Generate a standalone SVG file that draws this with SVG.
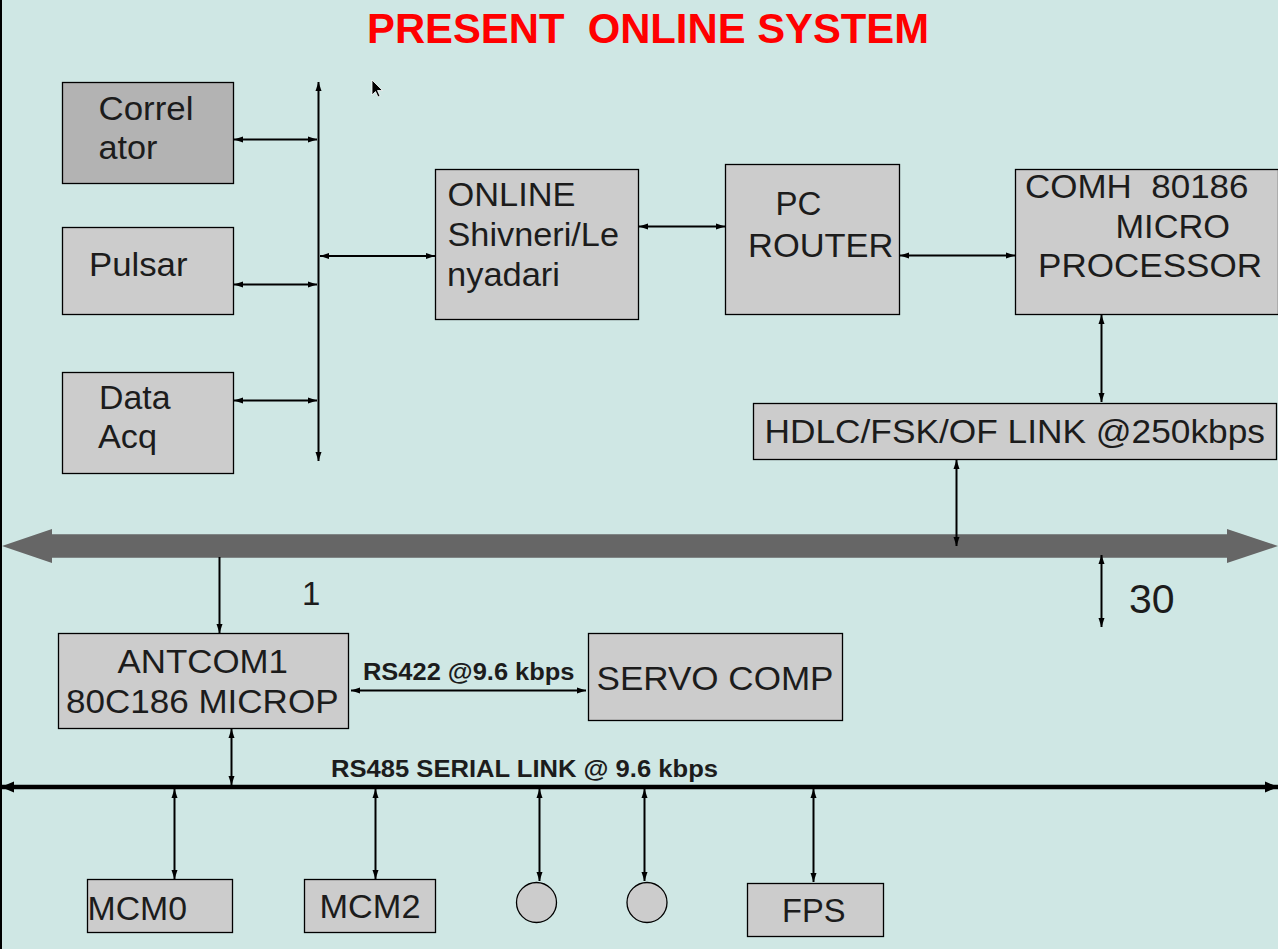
<svg xmlns="http://www.w3.org/2000/svg" width="1278" height="949" viewBox="0 0 1278 949">
<style>
.bg{fill:#cfe7e4}
.box{fill:#cccccc;stroke:#000;stroke-width:1.3}
.dark{fill:#b3b3b3}
.t{font-family:"Liberation Sans",Arial,sans-serif;font-size:33px;fill:#1c1c1c}
.b{font-family:"Liberation Sans",Arial,sans-serif;font-size:23.5px;font-weight:bold;fill:#1c1c1c}
.title{font-family:"Liberation Sans",Arial,sans-serif;font-size:42px;font-weight:bold;fill:#ff0000}
.c{stroke:#000;stroke-width:2;fill:none}
.thick{stroke:#000;stroke-width:4.5;fill:none}
</style>
<defs>
<marker id="a" markerUnits="userSpaceOnUse" markerWidth="9" markerHeight="7" refX="9" refY="3.5" orient="auto-start-reverse"><path d="M0,0.5 L9,3.5 L0,6.5 z" fill="#000"/></marker>
<marker id="A" markerUnits="userSpaceOnUse" markerWidth="13" markerHeight="12" refX="13" refY="6" orient="auto-start-reverse"><path d="M0,0.5 L13,6 L0,11.5 z" fill="#000"/></marker>
</defs>
<rect class="bg" x="0" y="0" width="1278" height="949"/>
<line x1="1" y1="0" x2="1" y2="949" stroke="#000" stroke-width="2"/>

<text class="title" x="367" y="43" textLength="562" lengthAdjust="spacingAndGlyphs" xml:space="preserve">PRESENT  ONLINE SYSTEM</text>

<g id="bus-main">
<polygon points="2,546 52,529 52,534.3 1227,534.3 1227,529 1278,546 1227,563 1227,557.7 52,557.7 52,563" fill="#666666"/>
</g>

<g id="connectors">
<line class="c" x1="234" y1="139.5" x2="317" y2="139.5" marker-start="url(#a)" marker-end="url(#a)"/>
<line class="c" x1="234" y1="284.5" x2="317" y2="284.5" marker-start="url(#a)" marker-end="url(#a)"/>
<line class="c" x1="234" y1="400.5" x2="317" y2="400.5" marker-start="url(#a)" marker-end="url(#a)"/>
<line class="c" x1="318.5" y1="82" x2="318.5" y2="461" marker-start="url(#a)" marker-end="url(#a)"/>
<line class="c" x1="320" y1="256" x2="435" y2="256" marker-start="url(#a)" marker-end="url(#a)"/>
<line class="c" x1="639" y1="226.5" x2="725" y2="226.5" marker-start="url(#a)" marker-end="url(#a)"/>
<line class="c" x1="900" y1="255.5" x2="1015" y2="255.5" marker-start="url(#a)" marker-end="url(#a)"/>
<line class="c" x1="1101.5" y1="315" x2="1101.5" y2="402" marker-start="url(#a)" marker-end="url(#a)"/>
<line class="c" x1="956.5" y1="460" x2="956.5" y2="546" marker-start="url(#a)" marker-end="url(#a)"/>
<line class="c" x1="1101.5" y1="555" x2="1101.5" y2="627" marker-start="url(#a)" marker-end="url(#a)"/>
<line class="c" x1="219.5" y1="557" x2="219.5" y2="633" marker-end="url(#a)"/>
<line class="c" x1="351" y1="690.5" x2="586" y2="690.5" marker-start="url(#a)" marker-end="url(#a)"/>
<line class="c" x1="231.5" y1="729" x2="231.5" y2="785" marker-start="url(#a)" marker-end="url(#a)"/>
<line class="thick" x1="1" y1="787" x2="1278" y2="787" marker-start="url(#A)" marker-end="url(#A)"/>
<line class="c" x1="174.5" y1="789" x2="174.5" y2="879" marker-start="url(#a)" marker-end="url(#a)"/>
<line class="c" x1="375.5" y1="789" x2="375.5" y2="879" marker-start="url(#a)" marker-end="url(#a)"/>
<line class="c" x1="539.5" y1="789" x2="539.5" y2="881" marker-start="url(#a)" marker-end="url(#a)"/>
<line class="c" x1="644.5" y1="789" x2="644.5" y2="881" marker-start="url(#a)" marker-end="url(#a)"/>
<line class="c" x1="813.5" y1="789" x2="813.5" y2="882" marker-start="url(#a)" marker-end="url(#a)"/>
</g>

<g id="correlator">
<rect class="box dark" x="62.5" y="82.5" width="171" height="101"/>
<text class="t" x="98.5" y="120" textLength="95" lengthAdjust="spacingAndGlyphs">Correl</text>
<text class="t" x="98.5" y="159" textLength="59" lengthAdjust="spacingAndGlyphs">ator</text>
</g>
<g id="pulsar">
<rect class="box" x="62.5" y="227.5" width="171" height="87"/>
<text class="t" x="89" y="276" textLength="98.5" lengthAdjust="spacingAndGlyphs">Pulsar</text>
</g>
<g id="dataacq">
<rect class="box" x="62.5" y="372.5" width="171" height="101"/>
<text class="t" x="99" y="409" textLength="71.5" lengthAdjust="spacingAndGlyphs">Data</text>
<text class="t" x="98" y="448" textLength="59" lengthAdjust="spacingAndGlyphs">Acq</text>
</g>
<g id="online">
<rect class="box" x="435.5" y="169.5" width="203" height="150"/>
<text class="t" x="447.5" y="205.5" textLength="128" lengthAdjust="spacingAndGlyphs">ONLINE</text>
<text class="t" x="447.5" y="245.5" textLength="171.5" lengthAdjust="spacingAndGlyphs">Shivneri/Le</text>
<text class="t" x="447" y="285.5" textLength="113" lengthAdjust="spacingAndGlyphs">nyadari</text>
</g>
<g id="pcrouter">
<rect class="box" x="725.5" y="164.5" width="174" height="150"/>
<text class="t" x="775.5" y="215" textLength="46" lengthAdjust="spacingAndGlyphs">PC</text>
<text class="t" x="748" y="257" textLength="145.5" lengthAdjust="spacingAndGlyphs">ROUTER</text>
</g>
<g id="comh">
<rect class="box" x="1015.5" y="169.5" width="263" height="145"/>
<text class="t" x="1025" y="197.5" textLength="223.5" lengthAdjust="spacingAndGlyphs" xml:space="preserve">COMH  80186</text>
<text class="t" x="1115.5" y="237.5" textLength="114.5" lengthAdjust="spacingAndGlyphs">MICRO</text>
<text class="t" x="1038" y="276.5" textLength="224" lengthAdjust="spacingAndGlyphs">PROCESSOR</text>
</g>
<g id="hdlc">
<rect class="box" x="753.5" y="403.5" width="523" height="56"/>
<text class="t" x="764.5" y="442.5" textLength="500.5" lengthAdjust="spacingAndGlyphs">HDLC/FSK/OF LINK @250kbps</text>
</g>
<g id="label-1">
<text class="t" x="302" y="604.5">1</text>
</g>
<g id="label-30">
<text class="t" x="1129" y="612.5" style="font-size:41px">30</text>
</g>
<g id="antcom">
<rect class="box" x="58.5" y="633.5" width="290" height="95"/>
<text class="t" x="117.5" y="672.5" textLength="170.5" lengthAdjust="spacingAndGlyphs">ANTCOM1</text>
<text class="t" x="66" y="712.5" textLength="272.5" lengthAdjust="spacingAndGlyphs">80C186 MICROP</text>
</g>
<g id="rs422-label">
<text class="b" x="363" y="680" textLength="211.5" lengthAdjust="spacingAndGlyphs">RS422 @9.6 kbps</text>
</g>
<g id="servo">
<rect class="box" x="588.5" y="633.5" width="254" height="87"/>
<text class="t" x="596.5" y="690" textLength="237" lengthAdjust="spacingAndGlyphs">SERVO COMP</text>
</g>
<g id="rs485-label">
<text class="b" x="331" y="776.5" textLength="387" lengthAdjust="spacingAndGlyphs">RS485 SERIAL LINK @ 9.6 kbps</text>
</g>
<g id="mcm0">
<rect class="box" x="87.5" y="879.5" width="145" height="53"/>
<text class="t" x="87.5" y="920" textLength="99.5" lengthAdjust="spacingAndGlyphs">MCM0</text>
</g>
<g id="mcm2">
<rect class="box" x="304.5" y="879.5" width="131" height="53"/>
<text class="t" x="319.5" y="917.5" textLength="101" lengthAdjust="spacingAndGlyphs">MCM2</text>
</g>
<g id="node-circle1">
<circle class="box" cx="536.5" cy="902.5" r="20"/>
</g>
<g id="node-circle2">
<circle class="box" cx="647" cy="902.5" r="20"/>
</g>
<g id="fps">
<rect class="box" x="747.5" y="883.5" width="136" height="53"/>
<text class="t" x="782" y="921.5" textLength="63.5" lengthAdjust="spacingAndGlyphs">FPS</text>
</g>
<path d="M372,80 L372,95 L375.5,91.5 L378,97 L380,96 L377.5,90.5 L382.5,90.5 Z" fill="#000" stroke="#fff" stroke-width="0.8"/>
</svg>
